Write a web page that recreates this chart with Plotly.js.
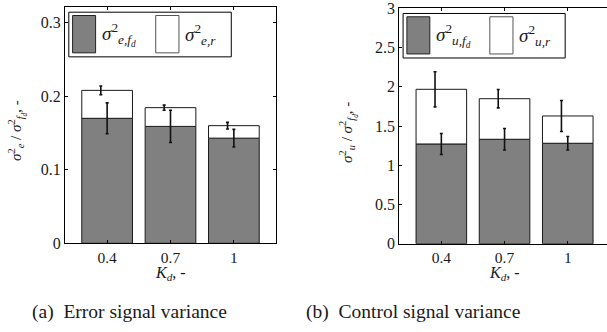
<!DOCTYPE html>
<html>
<head>
<meta charset="utf-8">
<script src="https://cdn.plot.ly/plotly-3.0.1.min.js"></script>
<style>
html,body{margin:0;padding:0;overflow:hidden;background:#fff;}
#chart{width:612px;height:332px;}
</style>
</head>
<body>
<div id="chart"></div>
<script>
// ---- data ----
const kdLabels = ["0.4", "0.7", "1"];
// (a) error signal variance (normalised)
const errFd = [0.170, 0.159, 0.143];
const errR = [0.038, 0.0255, 0.017];
const errFdSd = [0.021, 0.022, 0.012];
const errTotalSd = [0.006, 0.0035, 0.0045];
// (b) control signal variance (normalised)
const ctrlFd = [1.272, 1.332, 1.281];
const ctrlR = [0.697, 0.517, 0.348];
const ctrlFdSd = [0.134, 0.138, 0.087];
const ctrlTotalSd = [0.224, 0.117, 0.198];

const pos = kdLabels.map((_, i) => i + 1);
const posR = pos.map(p => p - 0.1);
const sum = (a, b) => a.map((v, i) => v + b[i]);

const SERIF = "Liberation Serif";
const DARK = "#808080";
const TXT = "#1a1a1a";

function barPair(fd, r, fdSd, totSd, xa, ya) {
  const bar = (y, base, color) => ({
    type: "bar", x: pos, y: y, base: base, xaxis: xa, yaxis: ya,
    width: 0.8, marker: {color: color, line: {color: "#1a1a1a", width: 1}},
    showlegend: false, hoverinfo: "skip"
  });
  const eb = (x, y, sd) => ({
    type: "scatter", mode: "markers", x: x, y: y, xaxis: xa, yaxis: ya,
    marker: {size: 1, color: "rgba(0,0,0,0)"},
    error_y: {type: "data", array: sd, visible: true, color: "#111", thickness: 1.6, width: 1.5},
    showlegend: false, hoverinfo: "skip"
  });
  return [
    bar(fd, fd.map(() => 0), DARK),
    bar(r, fd, "#ffffff"),
    eb(pos, fd, fdSd),
    eb(posR, sum(fd, r), totSd)
  ];
}

const data = [
  ...barPair(errFd, errR, errFdSd, errTotalSd, "x", "y"),
  ...barPair(ctrlFd, ctrlR, ctrlFdSd, ctrlTotalSd, "x2", "y2")
];

const W = 612, H = 332;
const xAxisBase = {
  range: [0.335, 3.665], tickmode: "array", tickvals: pos, ticktext: kdLabels,
  showline: true, linecolor: "#000", linewidth: 1, mirror: "ticks",
  ticks: "inside", ticklen: 3, tickcolor: "#000",
  showgrid: false, zeroline: false, fixedrange: true,
  tickfont: {family: SERIF, size: 15.5, color: TXT}
};
const yAxisBase = {
  showline: true, linecolor: "#000", linewidth: 1, mirror: "ticks",
  ticks: "inside", ticklen: 3, tickcolor: "#000",
  showgrid: false, zeroline: false, fixedrange: true,
  tickfont: {family: SERIF, size: 16, color: TXT}
};

const layout = {
  width: W, height: H,
  margin: {l: 0, r: 0, t: 0, b: 0},
  paper_bgcolor: "#fff", plot_bgcolor: "#fff",
  barmode: "overlay",
  showlegend: false,
  xaxis: Object.assign({}, xAxisBase, {domain: [65 / W, 276 / W], anchor: "y"}),
  yaxis: Object.assign({}, yAxisBase, {domain: [(H - 243.3) / H, (H - 7) / H], range: [0, 0.3214],
    tickvals: [0, 0.1, 0.2, 0.3], ticktext: ["0", "0.1", "0.2", "0.3"], tickmode: "array", anchor: "x"}),
  xaxis2: Object.assign({}, xAxisBase, {domain: [399.3 / W, 609.8 / W], anchor: "y2"}),
  yaxis2: Object.assign({}, yAxisBase, {domain: [(H - 243.7) / H, (H - 8.3) / H], range: [0, 3.002],
    tickvals: [0, 0.5, 1, 1.5, 2, 2.5, 3], ticktext: ["0", "0.5", "1", "1.5", "2", "2.5", "3"], tickmode: "array", anchor: "x2"}),
  shapes: [],
  annotations: []
};

function addLegend(xa, ya, sub1, sub2) {
  const xr = xa + " domain", yr = ya + " domain";
  layout.shapes.push(
    {type: "rect", xref: xr, yref: yr, x0: 0.018, x1: 0.788, y0: 0.789, y1: 0.978, line: {color: "#000", width: 1}, fillcolor: "#fff", layer: "above"},
    {type: "rect", xref: xr, yref: yr, x0: 0.036, x1: 0.145, y0: 0.806, y1: 0.964, line: {color: "#222", width: 1}, fillcolor: DARK, layer: "above"},
    {type: "rect", xref: xr, yref: yr, x0: 0.430, x1: 0.540, y0: 0.806, y1: 0.964, line: {color: "#555", width: 1}, fillcolor: "#fff", layer: "above"}
  );
  layout.annotations.push(
    {xref: xr, yref: yr, x: 0.165, y: 0.885, xanchor: "left", yanchor: "middle", showarrow: false,
     text: "<i>σ</i><sup>2</sup><sub><i>" + sub1 + "</i></sub>", font: {family: SERIF, size: 19, color: TXT}},
    {xref: xr, yref: yr, x: 0.560, y: 0.885, xanchor: "left", yanchor: "middle", showarrow: false,
     text: "<i>σ</i><sup>2</sup><sub><i>" + sub2 + "</i></sub>", font: {family: SERIF, size: 19, color: TXT}}
  );
}
addLegend("x", "y", "e,f<sub>d</sub>", "e,r");
addLegend("x2", "y2", "u,f<sub>d</sub>", "u,r");

const ann = (x, y, text, opts) => Object.assign({
  xref: "paper", yref: "paper", x: x / W, y: (H - y) / H, xanchor: "center", yanchor: "middle",
  showarrow: false, text: text, font: {family: SERIF, size: 16, color: TXT}
}, opts || {});

layout.annotations.push(
  ann(17, 131, "<i>σ</i><sup>2</sup><sub><i>e</i></sub> / <i>σ</i><sup>2</sup><sub><i>f<sub>d</sub></i></sub>, -", {textangle: -90, font: {family: SERIF, size: 15, color: TXT}}),
  ann(348, 133, "<i>σ</i><sup>2</sup><sub><i>u</i></sub> / <i>σ</i><sup>2</sup><sub><i>f<sub>d</sub></i></sub>, -", {textangle: -90, font: {family: SERIF, size: 15, color: TXT}}),
  ann(170, 273, "<i>K<sub>d</sub></i>, -"),
  ann(504, 273, "<i>K<sub>d</sub></i>, -"),
  ann(129, 312, "(a)\u00a0 Error signal variance", {font: {family: SERIF, size: 19.5, color: TXT}}),
  ann(413, 312, "(b)\u00a0 Control signal variance", {font: {family: SERIF, size: 19.5, color: TXT}})
);

Plotly.newPlot("chart", data, layout, {staticPlot: true, displayModeBar: false});
</script>
</body>
</html>
